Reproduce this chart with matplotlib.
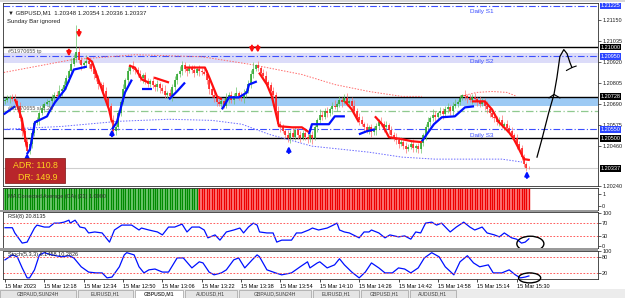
import matplotlib
matplotlib.use("Agg")
import matplotlib.pyplot as plt
import matplotlib.transforms as mtransforms
import numpy as np
from matplotlib.patches import Ellipse, Rectangle

plt.rcParams["font.family"] = ["Liberation Sans", "DejaVu Sans"]

W, H = 625, 298
BASE = 1.20000
PT = 1e-5  # one point

# --- data (prices in points above 1.20000), GBPUSD M1 from 15 Mar 12:02 ---
first_open = 705
closes = [
    712, 720, 728, 718, 706, 680, 610, 540, 480, 430,
    470, 530, 585, 600, 640, 665, 690, 700, 705, 720,
    740, 735, 760, 770, 790, 830, 870, 910, 940, 975,
    930, 900, 915, 925, 905, 880, 850, 830, 800, 790,
    760, 720, 680, 600, 540, 560, 640, 700, 770, 820,
    870, 895, 880, 875, 850, 830, 845, 810, 800, 815,
    790, 780, 800, 775, 760, 740, 750, 730, 780, 820,
    850, 870, 900, 880, 870, 885, 875, 860, 880, 870,
    865, 855, 820, 770, 740, 720, 700, 690, 705, 680,
    720, 740, 710, 730, 750, 735, 720, 745, 760, 800,
    850, 880, 900, 885, 860, 840, 810, 790, 760, 740,
    650, 580, 560, 540, 520, 500, 530, 510, 545, 520,
    505, 530, 510, 495, 520, 500, 560, 600, 630, 620,
    650, 640, 660, 680, 670, 690, 710, 700, 720, 695,
    705, 680, 650, 620, 600, 580, 560, 540, 560, 535,
    545, 570, 590, 580, 560, 575, 545, 520, 500, 490,
    470, 480, 460, 445, 455, 470, 450, 460, 440, 475,
    520, 560, 590, 610, 630, 620, 640, 650, 635, 660,
    670, 650, 680, 690, 700, 720, 740, 735, 720, 710,
    725, 715, 700, 690, 705, 680, 660, 640, 620, 610,
    590, 600, 570, 580, 555, 540, 520, 500, 470, 450,
    400, 360, 340, 337,
]
upper_wicks = [
    12, 20, 8, 15, 25, 10, 18, 6, 14, 22,
    30, 12, 8, 20, 14, 26, 10, 16, 8, 24,
    12, 18, 30, 10, 22, 16, 8, 28, 20, 40,
    24, 18, 10, 30, 14, 20, 12, 26, 16, 10,
    18, 22, 8, 14, 30, 20, 16, 10, 26, 12,
    20, 14, 28, 10, 18, 24, 12, 16, 22, 8,
    26, 14, 18, 10, 22, 30, 12, 20, 16, 24,
    10, 28, 14, 18, 12, 22, 16, 26, 10, 20,
    14, 24, 18, 12, 20, 28, 10, 16, 22, 14,
    26, 12, 20, 16, 30, 10, 18, 24, 14, 20,
    22, 16, 10, 26, 14, 20, 28, 12, 18, 24,
    12, 30, 16, 20, 10, 24, 14, 28, 18, 12,
    20, 14, 26, 18, 10, 22, 16, 12, 30, 20,
    14, 24, 10, 18, 28, 12, 20, 16, 22, 26,
    10, 20, 30, 14, 18, 24, 12, 26, 16, 20,
    22, 12, 18, 28, 14, 20, 10, 24, 16, 30,
    18, 26, 12, 20, 14, 22, 28, 10, 16, 24,
    12, 20, 26, 14, 30, 18, 10, 22, 16, 20,
    24, 14, 18, 28, 12, 20, 16, 26, 10, 22,
    16, 22, 12, 30, 18, 14, 24, 10, 20, 26,
    14, 18, 28, 12, 22, 16, 20, 10, 24, 18,
    12, 16, 10, 8,
]
lower_wicks = [
    18, 10, 24, 14, 8, 20, 12, 28, 16, 10,
    14, 22, 16, 10, 26, 12, 18, 8, 24, 14,
    20, 12, 16, 26, 10, 18, 22, 14, 12, 20,
    16, 26, 12, 20, 18, 10, 24, 14, 28, 16,
    12, 20, 26, 16, 10, 22, 14, 18, 12, 24,
    28, 16, 10, 22, 14, 18, 26, 12, 20, 16,
    14, 22, 18, 26, 12, 16, 20, 10, 24, 18,
    20, 12, 24, 16, 28, 14, 18, 22, 12, 26,
    16, 10, 22, 28, 14, 18, 24, 12, 20, 16,
    12, 26, 14, 20, 10, 24, 16, 28, 18, 12,
    24, 18, 12, 16, 26, 14, 20, 10, 22, 28,
    18, 14, 26, 12, 20, 16, 24, 10, 18, 22,
    26, 12, 18, 22, 16, 28, 10, 24, 14, 20,
    12, 20, 16, 24, 10, 22, 18, 26, 14, 16,
    22, 16, 12, 20, 28, 14, 24, 10, 18, 26,
    14, 24, 20, 10, 26, 16, 22, 18, 12, 20,
    20, 12, 18, 24, 16, 10, 26, 22, 14, 18,
    16, 28, 14, 20, 12, 24, 18, 10, 26, 14,
    18, 22, 26, 12, 20, 16, 10, 24, 28, 12,
    24, 14, 20, 16, 12, 26, 18, 22, 10, 20,
    16, 20, 12, 24, 18, 10, 22, 14, 26, 12,
    20, 14, 18, 10,
]
spike_highs = {29: 1122, 72: 925, 101: 920, 186: 742}
spike_lows = {9: 414, 44: 512, 115: 478, 125: 470, 168: 418, 213: 331}

# trailing-stop line (bar, points): red above price, blue below
trail_red = [
    [(4.1, 714), (6.9, 605), (8.9, 452)],
    [(33.3, 942), (35.4, 920), (39.4, 768), (42.3, 659), (43.5, 589)],
    [(50.4, 899), (52.8, 888), (55.7, 822), (58.5, 806)],
    [(60.6, 833), (66.7, 806)],
    [(73.2, 888), (81.3, 888), (82.9, 839), (86.2, 730), (88.2, 714)],
    [(103.3, 860), (106.5, 795), (108.5, 730), (111.4, 567), (116.7, 561), (120.7, 561), (123.6, 534)],
    [(138.2, 703), (141, 659), (143.9, 589)],
    [(150.4, 621), (153.3, 578), (156.1, 507), (161.4, 496), (165.4, 485), (169.5, 480)],
    [(189.8, 703), (195.1, 703), (198, 659), (200.8, 589), (204.9, 534), (206.9, 496), (209, 442), (211, 387), (213.4, 382)],
]
trail_blue = [
    [(-0.5, 632), (4.1, 676)],
    [(8.9, 414), (10.2, 442), (12.2, 589), (17.1, 621), (17.9, 643), (20.3, 697), (24.4, 768), (28, 877), (33.3, 893)],
    [(43.5, 550), (45.5, 589), (48.8, 752), (51.6, 822)],
    [(55.7, 768), (59.8, 768)],
    [(66.7, 714), (69.9, 757), (73.2, 806)],
    [(88.2, 659), (91.1, 725), (95.1, 725), (98.4, 752), (99.2, 795), (102.4, 812)],
    [(123.6, 523), (124.8, 578), (131.7, 578), (134.1, 621), (138.2, 621)],
    [(143.9, 523), (147.2, 540), (150.4, 550)],
    [(169.5, 485), (171.5, 523), (174.4, 578), (177.6, 616), (182.9, 621), (187, 670), (190.7, 676)],
]

# envelope (dotted) curves
env_upper = [(-0.5, 861), (27.2, 931), (52.8, 958), (80.1, 947), (100.4, 904), (120.7, 850),
             (134.1, 795), (148, 757), (161.4, 730), (169.5, 730)]
env_upper_arc = [(184.9, 730), (191.9, 752), (198, 757), (204.1, 752), (208.1, 730)]
env_lower = [(-0.5, 550), (23.2, 566), (46.3, 594), (66.7, 605), (84.1, 599), (96.3, 578), (107.3, 523),
             (124.8, 458), (148, 425), (161.4, 398), (174.8, 387), (202, 387), (210.2, 371)]

# signal arrows (bar, tail, tip)
sell_arrows = [(30.1, 1094, 1051), (26.0, 986, 948), (100.4, 1008, 969), (102.8, 1008, 969)]
buy_arrows = [(9.0, 387, 420), (43.5, 512, 550), (115.4, 420, 458), (212.2, 284, 322)]

# levels
pivot_levels = [1225, 950, 550]
pivot_names = ["Daily S1", "Daily S2", "Daily S3"]
black_levels = [1000, 728, 500]
green_level = 652
bid_level = 337
tp_band = (915, 969)
sl_band = (676, 728)

plain_ticks = [1150, 1035, 920, 805, 690, 575, 460, 240]
boxed_ticks = [1225, 1000, 950, 728, 550, 500, 337]
boxed_colors = ["#2b45ff", "black", "#2b45ff", "black", "#2b45ff", "black", "black"]

adr_value = 110.8
dr_value = 149.9

# hand-drawn forecast sketch (bar, points)
sketch_path = [(216.3, 398), (218.3, 496), (221.1, 643), (223.2, 741), (224.4, 833),
               (225.6, 948), (227.2, 986), (228.5, 964), (229.7, 915), (230.5, 888)]

# MA colour histogram: runs of up / down bars
ma_up_run = 79
ma_dn_run = 135

rsi_pts = [(0, 55), (3, 55), (4, 39), (7, 8), (9, 11), (12, 54), (13, 63), (16, 57), (18, 57), (20, 69),
           (22, 69), (24, 72), (26, 78), (26.5, 69), (28.5, 78), (30.5, 57), (32.5, 54), (34, 39), (36.5, 42),
           (39.5, 39), (42.5, 11), (44.5, 48), (47.5, 63), (51.5, 63), (54.5, 48), (55.5, 54), (58.5, 48),
           (62, 42), (64, 33), (66.5, 57), (69, 57), (72, 66), (74, 42), (76, 57), (79, 57), (81, 48),
           (82.5, 24), (85.4, 33), (87.4, 17), (90, 42), (93, 48), (95.5, 54), (97, 39), (99, 57), (101, 69),
           (102.5, 63), (103.5, 42), (106.5, 39), (109, 39), (110.5, 11), (112.5, 17), (116.5, 17),
           (118.5, 39), (120.5, 39), (123.5, 48), (125, 54), (127.5, 48), (131, 54), (133.5, 63), (135, 69),
           (136, 48), (138, 42), (140, 39), (144, 24), (146, 42), (148, 42), (149, 48), (152, 39),
           (154.5, 24), (156.5, 33), (160, 27), (162.5, 30), (165, 20), (167, 42), (169, 39), (171, 69),
           (173.5, 72), (175.5, 63), (177.5, 69), (181, 42), (183.5, 57), (186.5, 72), (189, 57), (191, 48),
           (194, 57), (196, 39), (199, 33), (201, 27), (203, 39), (206, 24), (208, 20), (210, 8),
           (211.5, 11), (213, 21)]
stoch_pts = [(0, 69), (3, 87), (5, 80), (7, 40), (9, 4), (10, 4), (12, 33), (14, 87), (16, 95), (19, 87),
             (23, 80), (26, 84), (28, 76), (31, 44), (34, 25), (37, 22), (39.5, 22), (41.5, 4), (43.5, 7),
             (46.5, 44), (48.5, 87), (49.5, 95), (52.5, 87), (54.5, 44), (56.5, 22), (58.5, 33), (61, 36),
             (64, 25), (66.5, 25), (70, 76), (72.5, 76), (76, 40), (79, 62), (80.5, 58), (83, 25), (85, 15),
             (88, 22), (90, 33), (93, 69), (95, 76), (97.5, 40), (100.5, 69), (102.5, 87), (103.5, 80),
             (106.5, 33), (110, 22), (112.5, 15), (116.5, 22), (120, 44), (123, 62), (124, 40), (127, 58),
             (128, 62), (131, 40), (134, 51), (136, 73), (138, 51), (141, 25), (144, 4), (146.5, 25),
             (149, 58), (152, 40), (154.5, 22), (157.5, 22), (160, 40), (162.5, 36), (165, 22), (168, 40),
             (170.5, 76), (173.5, 95), (176.5, 80), (179, 44), (182.5, 15), (185, 62), (188, 84),
             (190.5, 58), (193, 44), (196.5, 51), (198.5, 22), (202, 22), (205, 33), (207.5, 15),
             (209.5, 4), (211.5, 7), (213, 11)]

time_label_bars = [0, 16, 32, 48, 64, 80, 96, 112, 128, 144, 160, 176, 192, 208]
time_labels = ["15 Mar 2023", "15 Mar 12:18", "15 Mar 12:34", "15 Mar 12:50", "15 Mar 13:06",
               "15 Mar 13:22", "15 Mar 13:38", "15 Mar 13:54", "15 Mar 14:10", "15 Mar 14:26",
               "15 Mar 14:42", "15 Mar 14:58", "15 Mar 15:14", "15 Mar 15:30"]

tab_names = ["GBPAUD,SUN24H", "EURUSD,H1", "GBPUSD,M1", "AUDUSD,H1", "GBPAUD,SUN24H",
             "EURUSD,H1", "GBPUSD,H1", "AUDUSD,H1"]
tab_edges = [0, 78, 135, 185, 239, 313, 361, 410, 458]
active_tab = 2

GREEN = "#21a121"
RED = "#ff1010"
BLUE = "#0010ff"
PIVOT = "#3a4dff"
SMALL = 4.0


def P(v):
    return BASE + np.asarray(v, dtype=float) * PT


def px_axes(fig, x0, y0, x1, y1):
    return fig.add_axes([x0 / W, 1 - y1 / H, (x1 - x0) / W, (y1 - y0) / H])


def style_panel(ax):
    for s in ax.spines.values():
        s.set_color("#303030")
        s.set_linewidth(0.6)
    ax.yaxis.tick_right()
    ax.tick_params(axis="y", length=2, width=0.5, pad=1, labelsize=SMALL, colors="#202020")
    ax.tick_params(axis="x", length=0, labelbottom=False)
    ax.set_xlim(-0.8, 241.1)


fig = plt.figure(figsize=(W / 100, H / 100), dpi=100, facecolor="white")
ax = px_axes(fig, 3, 3, 598, 186)
ax_ma = px_axes(fig, 3, 188, 598, 210)
ax_rsi = px_axes(fig, 3, 212, 598, 248)
ax_sto = px_axes(fig, 3, 251, 598, 279)
for a in (ax, ax_ma, ax_rsi, ax_sto):
    style_panel(a)

# ---------------- main price chart ----------------
x = np.arange(len(closes))
c = P(closes)
o = P([first_open] + closes[:-1])
hi = np.maximum(o, c) + np.asarray(upper_wicks) * PT
lo = np.minimum(o, c) - np.asarray(lower_wicks) * PT
for b, v in spike_highs.items():
    hi[b] = P(v)
for b, v in spike_lows.items():
    lo[b] = P(v)

ax.set_ylim(P(245), P(1241))
ax.axhspan(P(tp_band[0]), P(tp_band[1]), color="#dcdcf9", lw=0, zorder=0)
ax.axhspan(P(sl_band[0]), P(sl_band[1]), color="#9dcaf4", lw=0, zorder=0)
for lv in black_levels:
    ax.axhline(P(lv), color="black", lw=1.0, zorder=1)
ax.axhline(P(green_level), color="#8fc98f", lw=0.9, ls=(0, (6, 2, 1, 2)), zorder=1)
ax.axhline(P(bid_level), color="#cfcfcf", lw=0.8, zorder=1)
for lv, name in zip(pivot_levels, pivot_names):
    ax.axhline(P(lv), color=PIVOT, lw=0.8, ls=(0, (6, 2, 1, 2)), zorder=1)
    ax.text(194, P(lv) - 18 * PT, name, color=PIVOT, fontsize=SMALL + 0.6, ha="center", va="top", zorder=6)

ex, ey = zip(*env_upper)
ax.plot(ex, P(ey), color="#ff6a6a", lw=0.7, ls=(0, (1.5, 1.5)), zorder=2)
ex, ey = zip(*env_upper_arc)
ax.plot(ex, P(ey), color="#ff6a6a", lw=0.7, ls=(0, (1.5, 1.5)), zorder=2)
ex, ey = zip(*env_lower)
ax.plot(ex, P(ey), color="#6a6aff", lw=0.7, ls=(0, (1.5, 1.5)), zorder=2)

up = c >= o
dn = ~up
ax.vlines(x[up], lo[up], hi[up], color="#6cc46c", lw=0.5, zorder=3)
ax.vlines(x[up], o[up], c[up], color=GREEN, lw=1.1, zorder=3)
ax.vlines(x[dn], lo[dn], hi[dn], color="#ff7070", lw=0.5, zorder=3)
ax.vlines(x[dn], c[dn], o[dn], color=RED, lw=1.1, zorder=3)

for seg in trail_red:
    sx, sy = zip(*seg)
    ax.plot(sx, P(sy), color=RED, lw=1.6, solid_capstyle="butt", zorder=4)
for seg in trail_blue:
    sx, sy = zip(*seg)
    ax.plot(sx, P(sy), color=BLUE, lw=1.6, solid_capstyle="butt", zorder=4)

for b, tail, tip in sell_arrows:
    ax.annotate("", xy=(b, P(tip)), xytext=(b, P(tail)),
                arrowprops=dict(arrowstyle="-|>", color=RED, lw=1.5, mutation_scale=6, shrinkA=0, shrinkB=0), zorder=5)
for b, tail, tip in buy_arrows:
    ax.annotate("", xy=(b, P(tip)), xytext=(b, P(tail)),
                arrowprops=dict(arrowstyle="-|>", color=BLUE, lw=1.5, mutation_scale=6, shrinkA=0, shrinkB=0), zorder=5)

# hand-drawn forecast sketch
sx, sy = zip(*sketch_path)
ax.plot(sx, P(sy), color="black", lw=0.9, zorder=6, clip_on=False)
ax.plot([221.2, 223.2, 225.6], P([722, 741, 722]), color="black", lw=0.8, zorder=6)
ax.plot([228.3, 230.5, 232.2], P([872, 888, 896]), color="black", lw=0.8, zorder=6)

# texts
ax.text(1.2, P(1190), "\u25bc GBPUSD,M1  1.20348 1.20354 1.20336 1.20337", fontsize=SMALL + 0.3,
        color="#202020", va="center", ha="left", zorder=7)
ax.text(0.8, P(1140), "Sunday Bar ignored", fontsize=SMALL + 0.3, color="#202020", va="center", zorder=7)
ax.text(1.2, P(962), "#51970655 tp", fontsize=SMALL, color="#555555", va="bottom", zorder=7)
ax.text(1.2, P(650), "#51970655 sl 1.20", fontsize=SMALL, color="#555555", va="bottom", zorder=7)

# right price scale
ax.set_yticks(P(plain_ticks))
ax.set_yticklabels([f"{v:.5f}" for v in P(plain_ticks)])
ytrans = mtransforms.blended_transform_factory(ax.transAxes, ax.transData)
for v, col in zip(boxed_ticks, boxed_colors):
    ax.text(1.004, P(v), f"{P(v):.5f}", transform=ytrans, fontsize=SMALL, color="white", ha="left",
            va="center", clip_on=False, zorder=8,
            bbox=dict(boxstyle="square,pad=0.15", facecolor=col, edgecolor="none"))

# ADR box
fig.patches.append(Rectangle((5 / W, 1 - 183 / H), 60 / W, 25 / H, transform=fig.transFigure,
                             facecolor="#b8262b", edgecolor="#7a1010", lw=0.5, zorder=10))
fig.text(58 / W, 1 - 166 / H, f"ADR: {adr_value}", color="#ffd21f", fontsize=6.3, ha="right", va="center", zorder=11)
fig.text(58 / W, 1 - 177 / H, f"DR: {dr_value}", color="#ffd21f", fontsize=6.3, ha="right", va="center", zorder=11)

# ---------------- MA corrected histogram ----------------
xtr = ax_ma.get_xaxis_transform()
ax_ma.axvspan(-0.5, ma_up_run - 0.5, color="#7fd07f", lw=0)
ax_ma.axvspan(ma_up_run - 0.5, ma_up_run + ma_dn_run - 0.5, color="#ff8a8a", lw=0)
ax_ma.vlines(np.arange(ma_up_run + ma_dn_run), 0, 1, transform=xtr,
             colors=["#008a00"] * ma_up_run + ["#ee0000"] * ma_dn_run, lw=1.0)
ax_ma.set_ylim(-0.33, 1.5)
ax_ma.set_yticks([0, 1])
ax_ma.set_yticklabels(["0", "1"])
ax_ma.text(1.2, 0.8, "MA Corrected Average (CA) (21) 1.0000", fontsize=SMALL, color="#303030",
           va="center", zorder=5)

# ---------------- RSI ----------------
rx, ry = zip(*rsi_pts)
ax_rsi.plot(rx, ry, color=BLUE, lw=0.9)
for lv in (70, 30):
    ax_rsi.axhline(lv, color="#ff4040", lw=0.6, ls=(0, (2, 2)))
ax_rsi.set_ylim(-7, 103)
ax_rsi.set_yticks([0, 30, 70, 100])
ax_rsi.text(1.2, 90, "RSI(8) 20.8135", fontsize=SMALL, color="#202020", va="center")
ax_rsi.add_patch(Ellipse((213.6, 6), 11, 46, fill=False, ec="black", lw=1.0, clip_on=False, zorder=6))

# ---------------- Stochastic ----------------
sx, sy = zip(*stoch_pts)
ax_sto.plot(sx, sy, color=BLUE, lw=0.9)
for lv in (80, 20):
    ax_sto.axhline(lv, color="#ff4040", lw=0.6, ls=(0, (2, 2)))
ax_sto.set_ylim(0, 101)
ax_sto.set_yticks([20, 80, 100])
ax_sto.text(1.2, 88, "Stoch(5,3,3) 6.1458 10.2826", fontsize=SMALL, color="#202020", va="center")
ax_sto.add_patch(Ellipse((213.3, 4), 9, 36, fill=False, ec="black", lw=1.0, clip_on=False, zorder=6))

ax_sto.set_xticks(time_label_bars)
ax_sto.set_xticklabels(time_labels)
ax_sto.tick_params(axis="x", length=2, width=0.5, labelbottom=True, labelsize=SMALL, pad=1.5)
for lab in ax_sto.get_xticklabels():
    lab.set_horizontalalignment("left")

# separators / chrome
for y0, y1 in ((210, 212), (248, 251)):
    fig.patches.append(Rectangle((0, 1 - y1 / H), 598 / W, (y1 - y0) / H, transform=fig.transFigure,
                                 facecolor="#9a9a9a", edgecolor="none", zorder=0))
fig.patches.append(Rectangle((0, 1 - 2 / H), 1, 2 / H, transform=fig.transFigure,
                             facecolor="#d8d8d8", edgecolor="none"))

# bottom tabs
fig.patches.append(Rectangle((0, 0), 1, 9 / H, transform=fig.transFigure, facecolor="#ececec",
                             edgecolor="none"))
for i, name in enumerate(tab_names):
    x0, x1 = tab_edges[i], tab_edges[i + 1] - 2
    fc = "white" if i == active_tab else "#e4e4e4"
    fig.patches.append(Rectangle((x0 / W, 0), (x1 - x0) / W, 8 / H, transform=fig.transFigure,
                                 facecolor=fc, edgecolor="#a0a0a0", lw=0.5))
    fig.text((x0 + x1) / 2 / W, 4 / H, name, fontsize=SMALL - 0.3, ha="center", va="center",
             color="#404040", fontweight="bold" if i == active_tab else "normal")

fig.savefig("out.png", dpi=100, facecolor="white")
